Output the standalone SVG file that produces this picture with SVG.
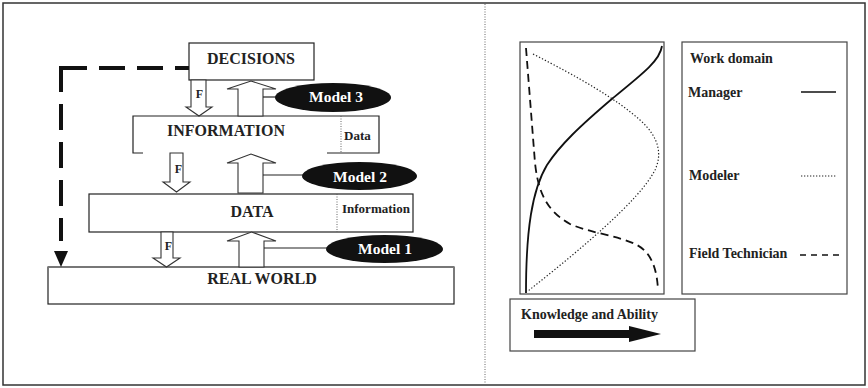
<svg xmlns="http://www.w3.org/2000/svg" width="868" height="388" viewBox="0 0 868 388">
  <style>
    .box { fill: #fff; stroke: #222; stroke-width: 1.2; }
    .ln { fill: none; stroke: #222; stroke-width: 1.2; }
    .arw { fill: #fff; stroke: #333; stroke-width: 1.1; stroke-linejoin: miter; }
    .div { fill: none; stroke: #555; stroke-width: 0.9; stroke-dasharray: 1 1.5; }
    .loop { fill: none; stroke: #111; stroke-width: 4; stroke-dasharray: 26 12; }
    .big { font-family: "Liberation Serif", "Times New Roman", serif; font-weight: bold; font-size: 16px; fill: #222; text-anchor: middle; }
    .sm { font-family: "Liberation Serif", "Times New Roman", serif; font-weight: bold; font-size: 13px; fill: #222; }
    .f { font-family: "Liberation Serif", "Times New Roman", serif; font-weight: bold; font-size: 12px; fill: #222; text-anchor: middle; }
    .mdl { font-family: "Liberation Serif", "Times New Roman", serif; font-weight: bold; font-size: 15.5px; fill: #fff; text-anchor: middle; }
    .leg { font-family: "Liberation Serif", "Times New Roman", serif; font-weight: bold; font-size: 14px; fill: #222; }
    .oval { fill: #111; }
  </style>

  <!-- outer frame and panel divider -->
  <rect x="3" y="3" width="862" height="382" fill="#fff" stroke="#333" stroke-width="1.5"/>
  <line x1="485" y1="4" x2="485" y2="384" class="div"/>

  <!-- left panel: layered model -->
  <g id="decisions">
    <rect x="189" y="43" width="125" height="37" class="box"/>
    <text x="251" y="64" class="big">DECISIONS</text>
  </g>

  <g id="information">
    <rect x="133" y="116" width="246" height="37" fill="#fff" stroke="none"/>
    <path d="M143,153 H133 V116 H379 V153 H327" class="ln"/>
    <line x1="341" y1="116" x2="341" y2="153" class="div"/>
    <text x="226" y="136" class="big">INFORMATION</text>
    <text x="344" y="139.5" class="sm" font-size="12.5">Data</text>
  </g>

  <g id="data">
    <rect x="89" y="194" width="324" height="38" class="box"/>
    <line x1="337" y1="194" x2="337" y2="232" class="div"/>
    <text x="252" y="217" class="big">DATA</text>
    <text x="342" y="213" class="sm">Information</text>
  </g>

  <g id="real-world">
    <rect x="48" y="267" width="406" height="37" class="box"/>
    <line x1="48" y1="267" x2="454" y2="267" stroke="#777" stroke-width="2"/>
    <text x="262" y="284" class="big">REAL WORLD</text>
  </g>

  <g id="model-3">
    <ellipse cx="333" cy="97.5" rx="58" ry="14.5" class="oval"/>
    <text x="336" y="102" class="mdl">Model 3</text>
  </g>
  <g id="model-2">
    <ellipse cx="359.5" cy="176" rx="57.5" ry="14" class="oval"/>
    <text x="360" y="181.5" class="mdl">Model 2</text>
  </g>
  <g id="model-1">
    <ellipse cx="384.5" cy="249" rx="58.5" ry="14" class="oval"/>
    <text x="385" y="254" class="mdl">Model 1</text>
  </g>

  <g id="connectors">
    <!-- feedback loop from decisions back to the real world -->
    <line x1="61" y1="68" x2="189" y2="68" class="loop"/>
    <line x1="61" y1="66" x2="61" y2="241" class="loop"/>
    <path d="M54,251 H68 L61,267 Z" fill="#111"/>

    <!-- F arrows pointing down -->
    <path d="M191,80 H206 V107 H212 L199,116 L186,107 H191 Z" class="arw"/>
    <path d="M170,153 H183 V182 H190 L176.5,192 L163,182 H170 Z" class="arw"/>
    <path d="M161,232 H173 V258 H180 L166.5,267 L153,258 H161 Z" class="arw"/>
    <text x="199.5" y="98" class="f">F</text>
    <text x="178.5" y="173" class="f">F</text>
    <text x="168.5" y="250" class="f">F</text>

    <!-- model arrows pointing up -->
    <path d="M238,116 V89 H227 L251,81 L276,89 H263 V116 Z" class="arw"/>
    <path d="M238,193 V163 H227 L251,154 L276,163 H263 V193 Z" class="arw"/>
    <path d="M239,267 V241 H227 L251.5,232 L276,241 H264 V267 Z" class="arw"/>

    <!-- model labels tied to their arrows -->
    <line x1="263" y1="97" x2="276" y2="97" class="ln"/>
    <line x1="263" y1="175" x2="303" y2="175" class="ln"/>
    <line x1="264" y1="248" x2="327" y2="248" class="ln"/>
  </g>

  <!-- right panel: competence curves -->
  <g id="chart">
    <rect x="520" y="42" width="144" height="252" fill="#fff" stroke="#444" stroke-width="1.2"/>
    <!-- manager -->
    <path d="M662,46 C660,60 645,72 613,98 C580,126 560,145 547,165 C532,190 526,230 526,293" fill="none" stroke="#111" stroke-width="1.8"/>
    <!-- modeler -->
    <path d="M533,54 C580,78 615,98 640,120 C660,138 662,155 655,170 C640,200 580,250 528,291" fill="none" stroke="#222" stroke-width="1.2" stroke-dasharray="1.3 2"/>
    <!-- field technician -->
    <path d="M526,48 L535,163 C538,190 545,210 570,224 C590,233 620,236 637,245 C652,253 657,270 658,290" fill="none" stroke="#111" stroke-width="1.8" stroke-dasharray="8 5"/>
  </g>

  <g id="legend">
    <rect x="682" y="42" width="165" height="252" fill="#fff" stroke="#444" stroke-width="1.2"/>
    <text x="690" y="63" class="leg">Work domain</text>
    <text x="688" y="97" class="leg">Manager</text>
    <line x1="801" y1="92" x2="836" y2="92" stroke="#111" stroke-width="1.6"/>
    <text x="689" y="180" class="leg">Modeler</text>
    <line x1="801" y1="176" x2="836" y2="176" stroke="#222" stroke-width="1.1" stroke-dasharray="1.3 1.7"/>
    <text x="689" y="258" class="leg">Field Technician</text>
    <line x1="800" y1="255" x2="843" y2="255" stroke="#111" stroke-width="1.6" stroke-dasharray="6 5"/>
  </g>

  <g id="knowledge">
    <rect x="510" y="299" width="185" height="52" fill="#fff" stroke="#444" stroke-width="1.2"/>
    <text x="521" y="319" class="leg">Knowledge and Ability</text>
    <path d="M534,330 H629 V326 L661,334 L629,342 V338 H534 Z" fill="#111"/>
  </g>
</svg>
